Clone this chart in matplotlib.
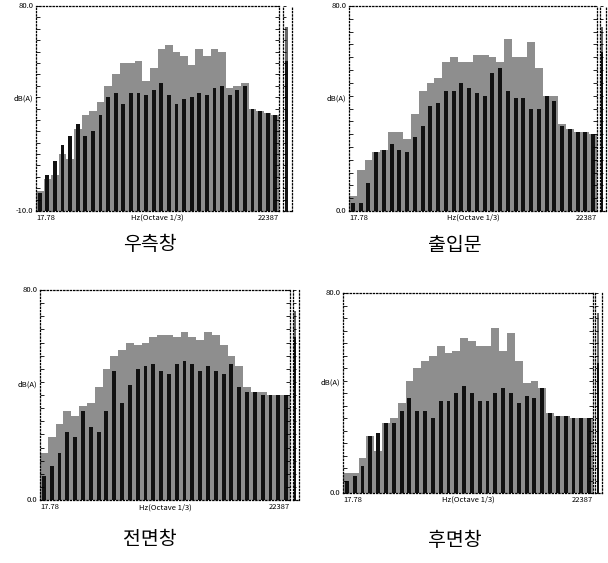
import matplotlib.pyplot as plt
import numpy as np

plt.rcParams['font.family'] = ['Noto Sans CJK KR', 'DejaVu Sans']

# 1/3 옥타브 밴드 (17.78 Hz ~ 22387 Hz, 32개)
bands = np.arange(32)
titles = ['우측창', '출입문', '전면창', '후면창']
ymins = [-10.0, 0.0, 0.0, 0.0]
ymax = 80.0

gray_1 = [-1, 4, 6, 15, 13, 26, 32, 34, 38, 45, 50, 55, 55, 56, 47, 53,
          61, 63, 60, 58, 54, 61, 58, 61, 60, 44, 45, 46, 35, 34, 33, 32]
black_1 = [-2, 6, 12, 19, 23, 28, 23, 25, 32, 40, 42, 37, 42, 42, 41, 43,
           46, 41, 37, 39, 40, 42, 41, 44, 45, 41, 43, 45, 35, 34, 33, 32]

gray_2 = [6, 16, 20, 23, 24, 31, 31, 28, 38, 47, 50, 52, 58, 60, 58, 58,
          61, 61, 60, 58, 67, 60, 60, 66, 56, 45, 45, 34, 32, 31, 31, 30]
black_2 = [3, 3, 11, 23, 24, 26, 24, 23, 29, 33, 41, 42, 47, 47, 50, 48,
           46, 45, 54, 56, 47, 44, 44, 40, 40, 45, 43, 33, 32, 31, 31, 30]

gray_3 = [18, 24, 29, 34, 32, 36, 37, 43, 50, 55, 57, 60, 59, 60, 62, 63,
          63, 62, 64, 62, 61, 64, 63, 59, 55, 51, 43, 41, 41, 40, 40, 40]
black_3 = [9, 13, 18, 26, 24, 34, 28, 26, 34, 49, 37, 44, 50, 51, 52, 49,
           48, 52, 53, 52, 49, 51, 49, 48, 52, 43, 41, 41, 40, 40, 40, 40]

gray_4 = [8, 8, 14, 23, 17, 28, 30, 36, 45, 50, 53, 55, 59, 56, 57, 62,
          61, 59, 59, 66, 57, 64, 53, 44, 45, 42, 32, 31, 31, 30, 30, 30]
black_4 = [5, 7, 11, 23, 24, 28, 28, 33, 38, 33, 33, 30, 37, 37, 40, 43,
           40, 37, 37, 40, 42, 40, 36, 39, 38, 42, 32, 31, 31, 30, 30, 30]

grays = [gray_1, gray_2, gray_3, gray_4]
blacks = [black_1, black_2, black_3, black_4]

# 오른쪽 전체 레벨 막대
overall_gray = [71, 72, 72, 72]
overall_black = [56, 62, 62, 52]

W, H = 608, 563
main_px = [(36, 279, 6, 211), (349, 597, 6, 211), (40, 290, 290, 500), (343, 593, 293, 493)]
side_px = [(283, 292), (600, 606), (293, 299), (595, 602)]
title_px = [(150, 245), (455, 245), (150, 540), (455, 540)]

fig = plt.figure(figsize=(W / 100, H / 100), dpi=100)

for i in range(4):
    l, r, t, b = main_px[i]
    ax = fig.add_axes([l / W, 1 - b / H, (r - l) / W, (b - t) / H])
    y0 = ymins[i]
    ax.bar(bands, np.array(grays[i]) - y0, bottom=y0, width=1.0, color='#8e8e8e', linewidth=0)
    ax.bar(bands, np.array(blacks[i]) - y0, bottom=y0, width=0.5, color='#111111', linewidth=0)
    ax.set_xlim(-0.5, 31.5)
    ax.set_ylim(y0, ymax)
    for s in ax.spines.values():
        s.set_linestyle(':')
        s.set_linewidth(0.9)
    ax.set_yticks(np.arange(y0, ymax + 0.1, 5.0))
    ax.tick_params(axis='y', direction='in', length=3, width=0.6, right=True, labelleft=False)
    ax.set_xticks([])
    ax.text(-0.01, 1.0, '80.0', transform=ax.transAxes, ha='right', va='center', fontsize=5.5)
    ax.text(-0.01, 0.0, '%.1f' % y0, transform=ax.transAxes, ha='right', va='center', fontsize=5.5)
    ax.text(-0.01, 0.55, 'dB(A)', transform=ax.transAxes, ha='right', va='center', fontsize=5.5)
    ax.text(0.0, -0.015, '17.78', transform=ax.transAxes, ha='left', va='top', fontsize=5.5)
    ax.text(0.5, -0.015, 'Hz(Octave 1/3)', transform=ax.transAxes, ha='center', va='top', fontsize=5.5)
    ax.text(1.0, -0.015, '22387', transform=ax.transAxes, ha='right', va='top', fontsize=5.5)

    sl, sr = side_px[i]
    sx = fig.add_axes([sl / W, 1 - b / H, (sr - sl) / W, (b - t) / H])
    sx.bar([0], [overall_gray[i] - y0], bottom=y0, width=0.5, color='#666666', linewidth=0)
    sx.bar([0], [overall_black[i] - y0], bottom=y0, width=0.5, color='#111111', linewidth=0)
    sx.set_xlim(-0.6, 0.9)
    sx.set_ylim(y0, ymax)
    for s in sx.spines.values():
        s.set_linestyle(':')
        s.set_linewidth(0.9)
    sx.spines['top'].set_visible(False)
    sx.set_xticks([])
    sx.set_yticks(np.arange(y0, ymax + 0.1, 5.0))
    sx.tick_params(axis='y', direction='in', length=2, width=0.6, labelleft=False)

    tx, ty = title_px[i]
    fig.text(tx / W, 1 - ty / H, titles[i], ha='center', va='center', fontsize=14)

fig.savefig('out.png', dpi=100)
